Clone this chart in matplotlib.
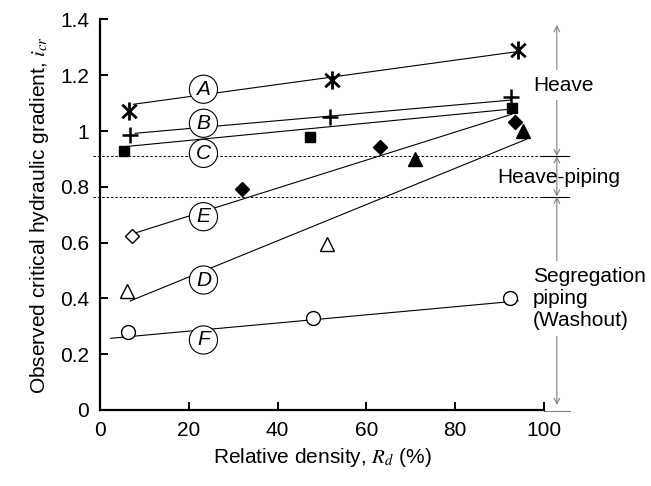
import matplotlib
matplotlib.use("Agg")
from matplotlib import pyplot as plt
from matplotlib.path import Path

plt.rcParams['font.family'] = ['Liberation Sans', 'DejaVu Sans']
plt.rcParams['mathtext.fontset'] = 'stix'

# measured points (relative density %, critical gradient)
a_x = [6.5, 52.2, 94.1]
a_y = [1.072, 1.183, 1.291]
b_x = [6.8, 51.7, 92.5]
b_y = [0.986, 1.052, 1.123]
c_x = [5.5, 47.3, 92.7]
c_y = [0.930, 0.980, 1.084]
d_x = [6.0, 51.2, 70.9, 95.3]
d_y = [0.428, 0.595, 0.899, 1.002]
d_filled = [False, False, True, True]
e_x = [7.1, 31.9, 63.1, 93.5]
e_y = [0.625, 0.792, 0.942, 1.034]
e_filled = [False, True, True, True]
f_x = [6.2, 47.9, 92.3]
f_y = [0.281, 0.331, 0.403]

# fitted trend lines (end points)
fit_a = ([7.5, 94.1], [1.096, 1.285])
fit_b = ([7.9, 92.5], [0.992, 1.111])
fit_c = ([5.5, 92.7], [0.944, 1.079])
fit_d = ([6.8, 96.1], [0.391, 0.971])
fit_e = ([8.0, 92.7], [0.635, 1.060])
fit_f = ([2.4, 94.2], [0.257, 0.391])

labels = ['A', 'B', 'C', 'D', 'E', 'F']
label_y = [1.15, 1.028, 0.920, 0.466, 0.693, 0.251]
label_x = 23.3

heave_lim = 0.91
piping_lim = 0.765

fs = 15

# X with a vertical bar, like the asterisk in the original
star = Path([(0, 1), (0, -1), (-0.8, 0.75), (0.8, -0.75), (-0.8, -0.75), (0.8, 0.75)],
            [Path.MOVETO, Path.LINETO] * 3)

fig = plt.figure(figsize=(6.51, 4.86), dpi=100)
ax = fig.add_axes([0.1536, 0.1564, 0.682, 0.8035])

lw = 0.8
for fx, fy in [fit_a, fit_b, fit_c, fit_d, fit_e, fit_f]:
    ax.plot(fx, fy, color='black', lw=lw, zorder=2)

ax.plot(a_x, a_y, ls='none', marker=star, ms=13, mew=2, color='black', zorder=3)
ax.plot(b_x, b_y, ls='none', marker='+', ms=12, mew=1.8, color='black', zorder=3)
ax.plot(c_x, c_y, ls='none', marker='s', ms=7, color='black', zorder=3)
for x, y, fl in zip(d_x, d_y, d_filled):
    ax.plot(x, y, marker='^', ms=10, mew=1, mec='black',
            mfc='black' if fl else 'white', zorder=3)
for x, y, fl in zip(e_x, e_y, e_filled):
    ax.plot(x, y, marker='D', ms=7, mew=1, mec='black',
            mfc='black' if fl else 'white', zorder=3)
ax.plot(f_x, f_y, ls='none', marker='o', ms=10, mew=1, mec='black', mfc='white', zorder=3)

for lab, ly in zip(labels, label_y):
    ax.text(label_x, ly, lab, fontsize=fs, style='italic', ha='center', va='center',
            bbox=dict(boxstyle='circle,pad=0.22', fc='white', ec='black', lw=lw), zorder=4)

# boundary lines
for yb in [heave_lim, piping_lim]:
    ax.plot([-1.6, 99.5], [yb, yb], color='black', lw=0.7, ls=(0, (2.5, 2)), clip_on=False)
    ax.plot([99.5, 105.6], [yb, yb], color='black', lw=0.8, clip_on=False)
ax.plot([100, 105.9], [-0.005, -0.005], color='gray', lw=0.8, clip_on=False)

xa = 102.9
arr = dict(arrowstyle='<->', color='gray', lw=0.8, shrinkA=0, shrinkB=0)
ax.annotate('', xy=(xa, 1.38), xytext=(xa, heave_lim), arrowprops=arr, annotation_clip=False)
ax.annotate('', xy=(xa, heave_lim), xytext=(xa, piping_lim), arrowprops=arr, annotation_clip=False)
ax.annotate('', xy=(xa, piping_lim), xytext=(xa, 0.018), arrowprops=arr, annotation_clip=False)

ax.text(97.5, 1.165, 'Heave', fontsize=fs, ha='left', va='center', clip_on=False,
        bbox=dict(fc='white', ec='none', pad=4), zorder=5)
ax.text(89.4, 0.832, 'Heave-piping', fontsize=fs, ha='left', va='center', clip_on=False, zorder=5)
ax.text(97.5, 0.40, 'Segregation\npiping\n(Washout)', fontsize=fs, ha='left', va='center',
        linespacing=1.2, clip_on=False, bbox=dict(fc='white', ec='none', pad=4), zorder=5)

ax.set_xlim(0, 100)
ax.set_ylim(0, 1.4)
ax.set_xticks([0, 20, 40, 60, 80, 100])
ax.set_yticks([0, 0.2, 0.4, 0.6, 0.8, 1.0, 1.2, 1.4])
ax.set_yticklabels(['0', '0.2', '0.4', '0.6', '0.8', '1', '1.2', '1.4'])
ax.spines['top'].set_visible(False)
ax.spines['right'].set_visible(False)
for s in ['left', 'bottom']:
    ax.spines[s].set_linewidth(1.6)
ax.tick_params(direction='in', length=6, width=1.4, labelsize=fs, pad=8)

ax.set_xlabel('Relative density, $R_d$ (%)', fontsize=fs, labelpad=4)
ax.set_ylabel('Observed critical hydraulic gradient, $i_{cr}$', fontsize=fs, labelpad=6)

fig.savefig('out.png', dpi=100)
